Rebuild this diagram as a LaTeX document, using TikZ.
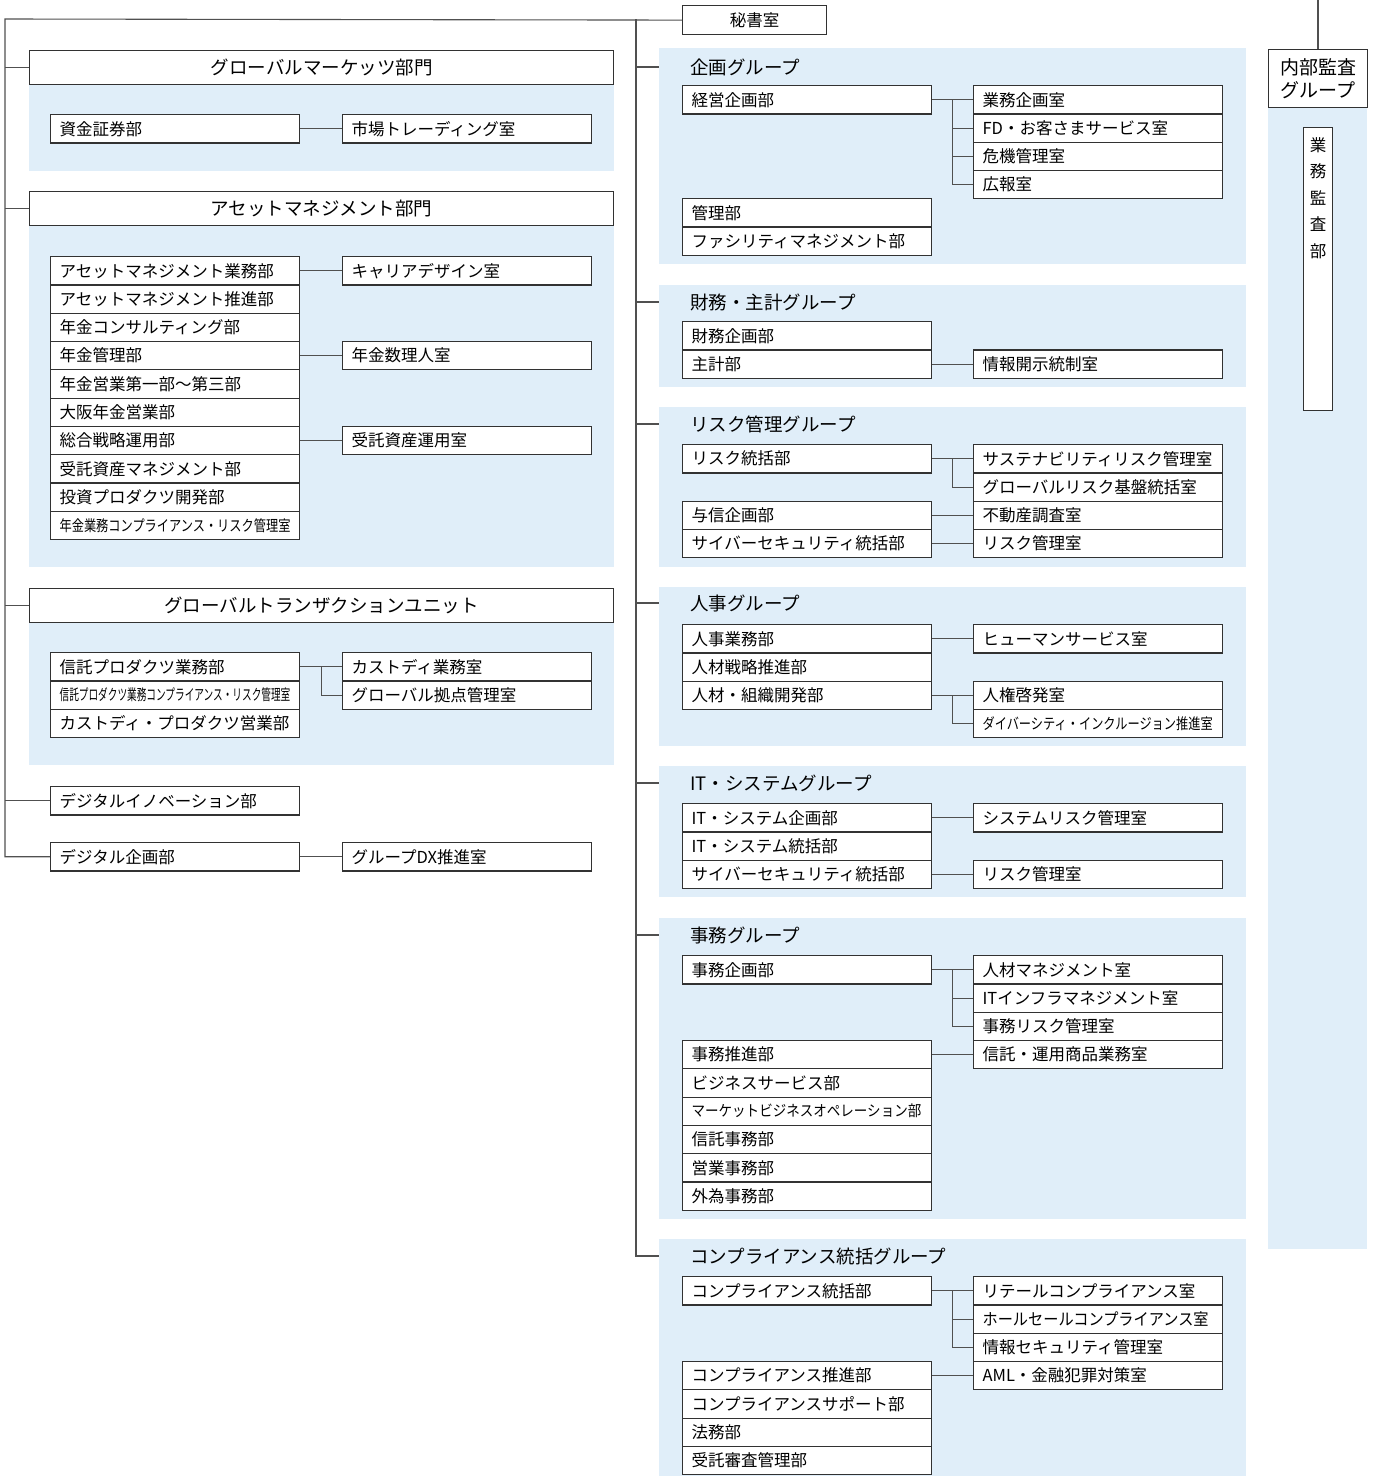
\documentclass[tikz,border=0pt]{standalone}
\usepackage{fontspec}
\setmainfont{Noto Sans CJK JP}
\usepackage{graphicx}
\usetikzlibrary{calc}
\definecolor{linec}{RGB}{50,50,50}
\definecolor{conc}{RGB}{80,80,80}
\definecolor{panelc}{RGB}{224,238,249}
\newcommand\fsA{\fontsize{16.5pt}{20pt}\selectfont}
\newcommand\fsH{\fontsize{18.5pt}{22pt}\selectfont}
\newcommand\fsN{\fontsize{19pt}{24pt}\selectfont}
\newcommand\cond[2]{\scalebox{#1}[0.92]{#2}}
\tikzset{
  ub/.style={draw=linec, line width=1.2pt, fill=white, anchor=north west,
    minimum width=249pt, minimum height=28.3pt, inner xsep=9pt, inner ysep=0pt,
    text width=231pt, align=left, font=\fsA},
  hb/.style={draw=linec, line width=1.2pt, fill=white, anchor=north west,
    minimum width=584pt, minimum height=34pt, inner sep=0pt, font=\fsH},
  gt/.style={anchor=west, font=\fsH, inner sep=0pt},
  cn/.style={draw=conc, line width=1.1pt},
  panel/.style={fill=panelc},
}
\begin{document}
\begin{tikzpicture}[x=1pt,y=-1pt]
\useasboundingbox (0,0) rectangle (1373,1476);

% ---------- panels ----------
\fill[panel] (29,84) rectangle (614,171);
\fill[panel] (29,226) rectangle (614,567);
\fill[panel] (29,623) rectangle (614,765);
\fill[panel] (659,48) rectangle (1246,264);
\fill[panel] (659,285) rectangle (1246,387);
\fill[panel] (659,407) rectangle (1246,567);
\fill[panel] (659,587) rectangle (1246,746);
\fill[panel] (659,766) rectangle (1246,897);
\fill[panel] (659,918) rectangle (1246,1219);
\fill[panel] (659,1239) rectangle (1246,1476);
\fill[panel] (1268,107) rectangle (1367,1249);

% ---------- coordinates ----------
\coordinate (L0) at (5,19);
\coordinate (R0) at (636,19);
\coordinate (A0) at (1318,0);
\coordinate (pKK) at (659,67);
\coordinate (pZM) at (659,302);
\coordinate (pRK) at (659,424);
\coordinate (pJJ) at (659,603);
\coordinate (pIT) at (659,783);
\coordinate (pJM) at (659,935);
\coordinate (pCP) at (659,1256);

% ---------- top ----------
\node[draw=linec, line width=1.2pt, fill=white, anchor=north west, minimum width=144pt,
  minimum height=29pt, inner sep=0pt, font=\fsA] (hisho) at (682,5) {秘書室};

% ---------- left column ----------
\node[hb] (gm) at (29,50) {グローバルマーケッツ部門};
\node[ub] (gm1) at (50,114) {資金証券部};
\node[ub] (gm2) at (342,114) {市場トレーディング室};

\node[hb] (am) at (29,191) {アセットマネジメント部門};
\node[ub] (am1) at (50,256) {アセットマネジメント業務部};
\node[ub] (am2) at (50,284.3) {アセットマネジメント推進部};
\node[ub] (am3) at (50,312.6) {年金コンサルティング部};
\node[ub] (am4) at (50,340.9) {年金管理部};
\node[ub] (am5) at (50,369.2) {年金営業第一部〜第三部};
\node[ub] (am6) at (50,397.5) {大阪年金営業部};
\node[ub] (am7) at (50,425.8) {総合戦略運用部};
\node[ub] (am8) at (50,454.1) {受託資産マネジメント部};
\node[ub] (am9) at (50,482.4) {投資プロダクツ開発部};
\node[ub] (am10) at (50,510.7) {\cond{0.74}{年金業務コンプライアンス・リスク管理室}};
\node[ub] (amr1) at (342,256) {キャリアデザイン室};
\node[ub] (amr2) at (342,340.9) {年金数理人室};
\node[ub] (amr3) at (342,425.8) {受託資産運用室};

\node[hb] (gtu) at (29,588) {グローバルトランザクションユニット};
\node[ub] (gt1) at (50,652) {信託プロダクツ業務部};
\node[ub] (gt2) at (50,680.3) {\cond{0.585}{信託プロダクツ業務コンプライアンス・リスク管理室}};
\node[ub] (gt3) at (50,708.6) {カストディ・プロダクツ営業部};
\node[ub] (gtr1) at (342,652) {カストディ業務室};
\node[ub] (gtr2) at (342,680.3) {グローバル拠点管理室};

\node[ub] (di) at (50,786) {デジタルイノベーション部};
\node[ub] (dp) at (50,842) {デジタル企画部};
\node[ub] (dx) at (342,842) {グループDX推進室};

% left connectors
\draw[cn] (hisho.west) -- (L0) |- (dp.west);
\draw[cn] (L0 |- gm.west) -- (gm.west);
\draw[cn] (L0 |- am.west) -- (am.west);
\draw[cn] (L0 |- gtu.west) -- (gtu.west);
\draw[cn] (L0 |- di.west) -- (di.west);
\draw[cn] (gm1.east) -- (gm2.west);
\draw[cn] (am1.east) -- (amr1.west);
\draw[cn] (am4.east) -- (amr2.west);
\draw[cn] (am7.east) -- (amr3.west);
\draw[cn] (gt1.east) -- (gtr1.west);
\coordinate (mGT) at ($(gt1.east)!0.5!(gtr1.west)$);
\draw[cn] (mGT) |- (gtr2.west);
\draw[cn] (dp.east) -- (dx.west);

% ---------- right column ----------
\draw[cn] (R0) |- (pCP);
\draw[cn] (R0 |- pKK) -- (pKK);
\draw[cn] (R0 |- pZM) -- (pZM);
\draw[cn] (R0 |- pRK) -- (pRK);
\draw[cn] (R0 |- pJJ) -- (pJJ);
\draw[cn] (R0 |- pIT) -- (pIT);
\draw[cn] (R0 |- pJM) -- (pJM);

% 企画グループ
\node[gt] (tKK) at (690,67) {企画グループ};
\node[ub] (kk1) at (682,85) {経営企画部};
\node[ub] (kk2) at (682,198) {管理部};
\node[ub] (kk3) at (682,226.3) {ファシリティマネジメント部};
\node[ub] (kr1) at (973,85) {業務企画室};
\node[ub] (kr2) at (973,113.3) {FD・お客さまサービス室};
\node[ub] (kr3) at (973,141.6) {危機管理室};
\node[ub] (kr4) at (973,169.9) {広報室};
\coordinate (mKK) at ($(kk1.east)!0.5!(kr1.west)$);
\draw[cn] (kk1.east) -- (kr1.west);
\draw[cn] (mKK) |- (kr4.west);
\draw[cn] (mKK |- kr2.west) -- (kr2.west);
\draw[cn] (mKK |- kr3.west) -- (kr3.west);

% 財務・主計グループ
\node[gt] (tZM) at (690,302) {財務・主計グループ};
\node[ub] (zm1) at (682,321) {財務企画部};
\node[ub] (zm2) at (682,349.3) {主計部};
\node[ub] (zr1) at (973,349.3) {情報開示統制室};
\draw[cn] (zm2.east) -- (zr1.west);

% リスク管理グループ
\node[gt] (tRK) at (690,424) {リスク管理グループ};
\node[ub] (rk1) at (682,444) {リスク統括部};
\node[ub] (rk2) at (682,500.6) {与信企画部};
\node[ub] (rk3) at (682,528.9) {サイバーセキュリティ統括部};
\node[ub] (rr1) at (973,444) {サステナビリティリスク管理室};
\node[ub] (rr2) at (973,472.3) {グローバルリスク基盤統括室};
\node[ub] (rr3) at (973,500.6) {不動産調査室};
\node[ub] (rr4) at (973,528.9) {リスク管理室};
\coordinate (mRK) at ($(rk1.east)!0.5!(rr1.west)$);
\draw[cn] (rk1.east) -- (rr1.west);
\draw[cn] (mRK) |- (rr2.west);
\draw[cn] (rk2.east) -- (rr3.west);
\draw[cn] (rk3.east) -- (rr4.west);

% 人事グループ
\node[gt] (tJJ) at (690,603) {人事グループ};
\node[ub] (jj1) at (682,624) {人事業務部};
\node[ub] (jj2) at (682,652.3) {人材戦略推進部};
\node[ub] (jj3) at (682,680.6) {人材・組織開発部};
\node[ub] (jr1) at (973,624) {ヒューマンサービス室};
\node[ub] (jr2) at (973,680.6) {人権啓発室};
\node[ub] (jr3) at (973,708.9) {\cond{0.74}{ダイバーシティ・インクルージョン推進室}};
\coordinate (mJJ) at ($(jj3.east)!0.5!(jr2.west)$);
\draw[cn] (jj1.east) -- (jr1.west);
\draw[cn] (jj3.east) -- (jr2.west);
\draw[cn] (mJJ) |- (jr3.west);

% IT・システムグループ
\node[gt] (tIT) at (690,783) {IT・システムグループ};
\node[ub] (it1) at (682,803) {IT・システム企画部};
\node[ub] (it2) at (682,831.3) {IT・システム統括部};
\node[ub] (it3) at (682,859.6) {サイバーセキュリティ統括部};
\node[ub] (ir1) at (973,803) {システムリスク管理室};
\node[ub] (ir2) at (973,859.6) {リスク管理室};
\draw[cn] (it1.east) -- (ir1.west);
\draw[cn] (it3.east) -- (ir2.west);

% 事務グループ
\node[gt] (tJM) at (690,935) {事務グループ};
\node[ub] (jm1) at (682,955) {事務企画部};
\node[ub] (jm2) at (682,1039.9) {事務推進部};
\node[ub] (jm3) at (682,1068.2) {ビジネスサービス部};
\node[ub] (jm4) at (682,1096.5) {\cond{0.82}{マーケットビジネスオペレーション部}};
\node[ub] (jm5) at (682,1124.8) {信託事務部};
\node[ub] (jm6) at (682,1153.1) {営業事務部};
\node[ub] (jm7) at (682,1181.4) {外為事務部};
\node[ub] (jmr1) at (973,955) {人材マネジメント室};
\node[ub] (jmr2) at (973,983.3) {ITインフラマネジメント室};
\node[ub] (jmr3) at (973,1011.6) {事務リスク管理室};
\node[ub] (jmr4) at (973,1039.9) {信託・運用商品業務室};
\coordinate (mJM) at ($(jm1.east)!0.5!(jmr1.west)$);
\draw[cn] (jm1.east) -- (jmr1.west);
\draw[cn] (mJM) |- (jmr3.west);
\draw[cn] (mJM |- jmr2.west) -- (jmr2.west);
\draw[cn] (jm2.east) -- (jmr4.west);

% コンプライアンス統括グループ
\node[gt] (tCP) at (690,1256) {コンプライアンス統括グループ};
\node[ub] (cp1) at (682,1276) {コンプライアンス統括部};
\node[ub] (cp2) at (682,1360.9) {コンプライアンス推進部};
\node[ub] (cp3) at (682,1389.2) {コンプライアンスサポート部};
\node[ub] (cp4) at (682,1417.5) {法務部};
\node[ub] (cp5) at (682,1445.8) {受託審査管理部};
\node[ub] (cpr1) at (973,1276) {リテールコンプライアンス室};
\node[ub] (cpr2) at (973,1304.3) {\scalebox{0.92}[1]{ホールセールコンプライアンス室}};
\node[ub] (cpr3) at (973,1332.6) {情報セキュリティ管理室};
\node[ub] (cpr4) at (973,1360.9) {AML・金融犯罪対策室};
\coordinate (mCP) at ($(cp1.east)!0.5!(cpr1.west)$);
\draw[cn] (cp1.east) -- (cpr1.west);
\draw[cn] (mCP) |- (cpr3.west);
\draw[cn] (mCP |- cpr2.west) -- (cpr2.west);
\draw[cn] (cp2.east) -- (cpr4.west);

% ---------- 内部監査 ----------
\node[draw=linec, line width=1.2pt, fill=white, anchor=north west, minimum width=99pt,
  minimum height=58pt, inner sep=0pt, align=center, font=\fontsize{19pt}{23.5pt}\selectfont]
  (nb) at (1268,49) {内部監査\\グループ};
\draw[cn] (A0) -- (A0 |- nb.north);
\node[draw=linec, line width=1.2pt, fill=white, anchor=north west, minimum width=29pt,
  minimum height=283pt, inner sep=0pt] (gk) at (1303,127) {};
\node[anchor=north, align=center, inner sep=0pt, font=\fontsize{16.5pt}{26.5pt}\selectfont]
  (gkt) at ([yshift=-10pt]gk.north) {業\\務\\監\\査\\部};
\end{tikzpicture}
\end{document}
